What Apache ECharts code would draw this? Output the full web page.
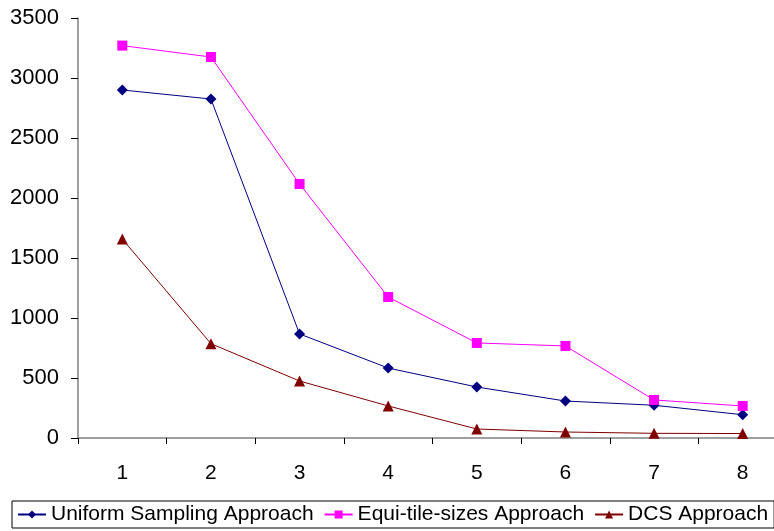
<!DOCTYPE html>
<html><head><meta charset="utf-8">
<script src="https://cdn.jsdelivr.net/npm/echarts@6/dist/echarts.min.js"></script>
<style>html,body{margin:0;padding:0;background:#fff;overflow:hidden;width:774px;height:531px}#c{width:820px;height:531px}</style>
</head><body><div id="c"></div>
<script>
const categories = ['1','2','3','4','5','6','7','8'];
const uniform = [2900, 2825, 867, 583, 425, 308, 273, 194];
const equi = [3270, 3175, 2117, 1175, 792, 767, 317, 267];
const dcs = [1658, 786, 475, 267, 75, 50, 39, 37];
const seriesNames = ['Uniform Sampling Approach', 'Equi-tile-sizes Approach', 'DCS Approach'];

const font = 'Liberation Sans, Arial, sans-serif';
const chart = echarts.init(document.getElementById('c'), null, {renderer:'canvas'});
chart.setOption({
  animation: false,
  backgroundColor: '#fff',
  grid: {left: 78, width: 709, top: 18, height: 420, containLabel: false},
  legend: {
    left: 12, top: 501, orient: 'horizontal',
    borderColor: '#000', borderWidth: 1, padding: [3, 6, 3, 5],
    itemWidth: 28, itemHeight: 10, itemGap: 10,
    textStyle: {fontFamily: font, fontSize: 21, color: '#000'},
    data: seriesNames
  },
  xAxis: {
    type: 'category', data: categories, boundaryGap: true,
    axisLine: {lineStyle: {color: '#808080', width: 1.5}},
    axisTick: {show: true, length: 6, inside: false, lineStyle: {color: '#000'}},
    axisLabel: {fontFamily: font, fontSize: 21, color: '#000', margin: 25},
    splitLine: {show: false}
  },
  yAxis: {
    type: 'value', min: 0, max: 3500, interval: 500,
    axisLine: {show: true, lineStyle: {color: '#808080', width: 1.5}},
    axisTick: {show: true, length: 7, lineStyle: {color: '#000'}},
    axisLabel: {fontFamily: font, fontSize: 22, color: '#000', margin: 19,
      formatter: v => String(v)},
    splitLine: {show: false}
  },
  series: [
    {name: seriesNames[0], type: 'line', data: uniform, symbol: 'diamond', symbolSize: 11,
     itemStyle: {color: '#000080'}, lineStyle: {color: '#000080', width: 1}},
    {name: seriesNames[1], type: 'line', data: equi, symbol: 'rect', symbolSize: 10,
     itemStyle: {color: '#ff00ff'}, lineStyle: {color: '#ff00ff', width: 1}},
    {name: seriesNames[2], type: 'line', data: dcs, symbol: 'triangle', symbolSize: 11,
     itemStyle: {color: '#800000'}, lineStyle: {color: '#800000', width: 1}}
  ]
});
</script></body></html>
